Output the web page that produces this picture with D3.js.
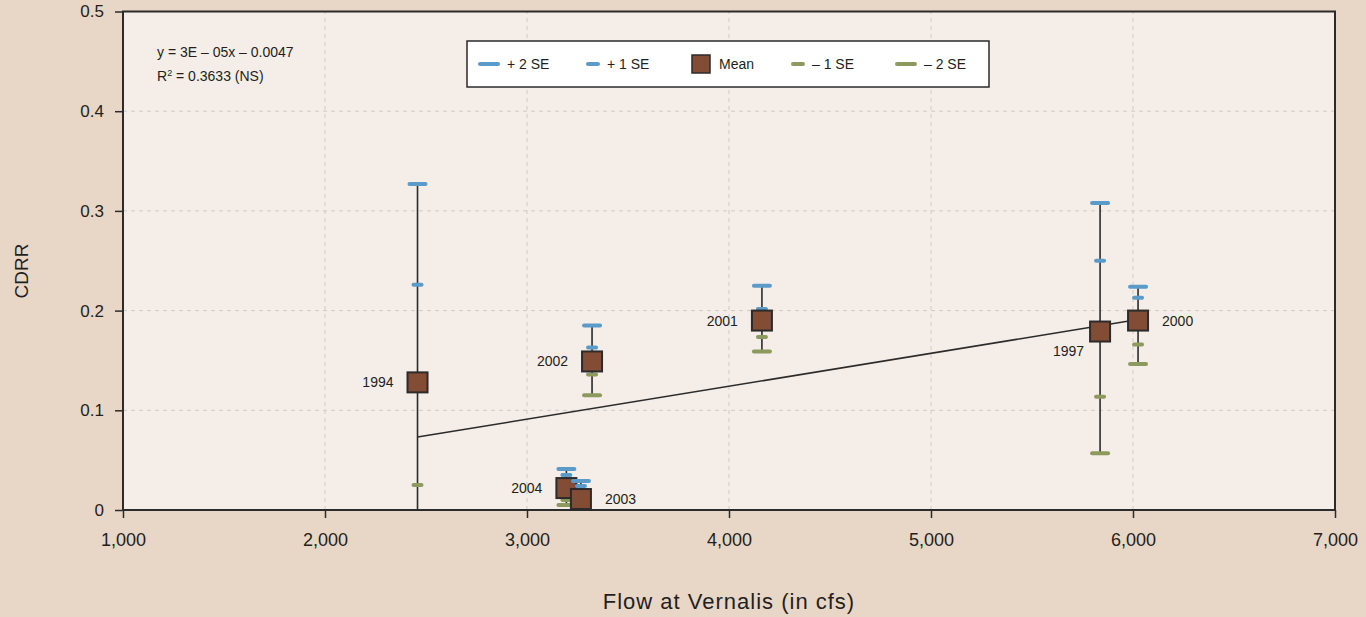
<!DOCTYPE html>
<html>
<head>
<meta charset="utf-8">
<script src="https://cdn.jsdelivr.net/npm/d3@7"></script>
<style>
  body { margin: 0; background: #e8d6c7; }
  svg text { font-family: "Liberation Sans", Arial, Helvetica, sans-serif; fill: #231f20; }
</style>
</head>
<body>
<div id="chart"></div>
<script>
// chart values
const years  = ['1994', '2002', '2004', '2003', '2001', '1997', '2000'];
const flow   = [2458, 3322, 3195, 3267, 4163, 5837, 6025];
const mean   = [0.128, 0.149, 0.022, 0.011, 0.190, 0.179, 0.190];
const plus2  = [0.327, 0.185, 0.041, 0.029, 0.225, 0.308, 0.224];
const plus1  = [0.226, 0.163, 0.035, 0.024, 0.2015, 0.250, 0.213];
const minus1 = [0.025, 0.136, 0.010, 0.000, 0.1735, 0.1135, 0.166];
const minus2 = [-0.073, 0.115, 0.005, -0.015, 0.159, 0.057, 0.1465];
const labelSide = ['left', 'left', 'left', 'right', 'left', 'below', 'right'];

const trendX = [2458, 6025];
const trendY = [0.0732, 0.191];

const xTicks = [1000, 2000, 3000, 4000, 5000, 6000, 7000];
const yTicks = [0, 0.1, 0.2, 0.3, 0.4, 0.5];

const legendLabels = ['+ 2 SE', '+ 1 SE', 'Mean', '\u2013 1 SE', '\u2013 2 SE'];
const equationLine = 'y = 3E \u2013 05x \u2013 0.0047';
const r2Value = '0.3633 (NS)';

const blue = '#5a9bc9';
const olive = '#8c9a5e';
const brown = '#824c35';
const dark = '#2b2b2b';

const width = 1366;
const height = 617;
const margin = {top: 11.5, right: 31, bottom: 107, left: 123};

const points = years.map((y, i) => ({
  year: y, flow: flow[i], mean: mean[i],
  p2: plus2[i], p1: plus1[i], m1: minus1[i], m2: minus2[i], side: labelSide[i]
}));

const svg = d3.select('#chart').append('svg')
  .attr('width', width)
  .attr('height', height);

const x = d3.scaleLinear().domain([1000, 7000]).range([margin.left, width - margin.right]);
const y = d3.scaleLinear().domain([0, 0.5]).range([height - margin.bottom, margin.top]);

// plot background
svg.append('rect')
  .attr('x', x(1000)).attr('y', y(0.5))
  .attr('width', x(7000) - x(1000)).attr('height', y(0) - y(0.5))
  .attr('fill', '#f5ede7');

svg.append('clipPath').attr('id', 'plotclip')
  .append('rect')
  .attr('x', x(1000)).attr('y', y(0.5) - 2)
  .attr('width', x(7000) - x(1000)).attr('height', y(0) - y(0.5) + 2);

// grid
svg.append('g').selectAll('line')
  .data(xTicks.slice(1, -1))
  .join('line')
  .attr('x1', d => x(d)).attr('x2', d => x(d))
  .attr('y1', y(0)).attr('y2', y(0.5))
  .attr('stroke', '#cfcac7').attr('stroke-dasharray', '4,4');

svg.append('g').selectAll('line')
  .data(yTicks.slice(1, -1))
  .join('line')
  .attr('x1', x(1000)).attr('x2', x(7000))
  .attr('y1', d => y(d)).attr('y2', d => y(d))
  .attr('stroke', '#cfcac7').attr('stroke-dasharray', '4,4');

// axes
const xAxis = svg.append('g')
  .attr('transform', `translate(0,${y(0)})`)
  .call(d3.axisBottom(x).tickValues(xTicks).tickFormat(d3.format(',')).tickSize(8).tickPadding(15));

const yAxis = svg.append('g')
  .attr('transform', `translate(${x(1000)},0)`)
  .call(d3.axisLeft(y).tickValues(yTicks).tickFormat(d => d === 0 ? '0' : d3.format('.1f')(d)).tickSize(8).tickPadding(11));

[xAxis, yAxis].forEach(a => {
  a.select('.domain').remove();
  a.selectAll('.tick line').attr('stroke', dark).attr('stroke-width', 1.5);
  a.selectAll('.tick text').attr('fill', '#231f20');
});
xAxis.selectAll('.tick text').style('font-size', '18px');
yAxis.selectAll('.tick text').style('font-size', '17px');

// frame
svg.append('rect')
  .attr('x', x(1000)).attr('y', y(0.5))
  .attr('width', x(7000) - x(1000)).attr('height', y(0) - y(0.5))
  .attr('fill', 'none').attr('stroke', dark).attr('stroke-width', 2);

// axis titles
svg.append('text')
  .attr('x', (x(1000) + x(7000)) / 2).attr('y', 609)
  .attr('text-anchor', 'middle')
  .style('font-size', '22px')
  .style('letter-spacing', '1px')
  .text('Flow at Vernalis (in cfs)');

svg.append('text')
  .attr('transform', 'translate(28,271) rotate(-90)')
  .attr('text-anchor', 'middle')
  .style('font-size', '19px')
  .text('CDRR');

// trend line
svg.append('line')
  .attr('x1', x(trendX[0])).attr('y1', y(trendY[0]))
  .attr('x2', x(trendX[1])).attr('y2', y(trendY[1]))
  .attr('stroke', dark).attr('stroke-width', 1.6);

// points with SE bars
const marks = svg.append('g');
const boxSize = 20;

points.forEach(p => {
  const g = marks.append('g');
  const gc = g.append('g').attr('clip-path', 'url(#plotclip)');
  const cx = x(p.flow);

  gc.append('line')
    .attr('x1', cx).attr('x2', cx)
    .attr('y1', y(p.m2)).attr('y2', y(p.p2))
    .attr('stroke', dark).attr('stroke-width', 1.6);

  const caps = [
    {v: p.p2, w: 20, c: blue},
    {v: p.p1, w: 12, c: blue},
    {v: p.m1, w: 12, c: olive},
    {v: p.m2, w: 20, c: olive}
  ];
  gc.selectAll('line.cap')
    .data(caps)
    .join('line')
    .attr('class', 'cap')
    .attr('x1', d => cx - d.w / 2 + 2).attr('x2', d => cx + d.w / 2 - 2)
    .attr('y1', d => y(d.v)).attr('y2', d => y(d.v))
    .attr('stroke', d => d.c).attr('stroke-width', 4).attr('stroke-linecap', 'round');

  g.append('rect')
    .attr('x', cx - boxSize / 2).attr('y', y(p.mean) - boxSize / 2)
    .attr('width', boxSize).attr('height', boxSize)
    .attr('fill', brown).attr('stroke', dark).attr('stroke-width', 2);

  const lab = g.append('text').style('font-size', '14px').text(p.year);
  if (p.side === 'left') {
    lab.attr('x', cx - 24).attr('y', y(p.mean) + 5).attr('text-anchor', 'end');
  } else if (p.side === 'right') {
    lab.attr('x', cx + 24).attr('y', y(p.mean) + 5).attr('text-anchor', 'start');
  } else {
    lab.attr('x', cx - 16).attr('y', y(p.mean) + 24).attr('text-anchor', 'end');
  }
});

// equation
const eq = svg.append('g').attr('transform', 'translate(157,0)');
eq.append('text').attr('y', 57).style('font-size', '14px').text(equationLine);
const r2 = eq.append('text').attr('y', 81).style('font-size', '14px');
r2.append('tspan').text('R');
r2.append('tspan').attr('dy', -5).style('font-size', '9px').text('2');
r2.append('tspan').attr('dy', 5).text(' = ' + r2Value);

// legend
const legend = svg.append('g');
legend.append('rect')
  .attr('x', 467).attr('y', 41).attr('width', 522).attr('height', 46)
  .attr('fill', '#ffffff').attr('stroke', dark).attr('stroke-width', 1.5);

const legendItems = [
  {x: 480, w: 18, c: blue, type: 'cap'},
  {x: 588, w: 10, c: blue, type: 'cap'},
  {x: 692, w: 18, c: brown, type: 'box'},
  {x: 793, w: 10, c: olive, type: 'cap'},
  {x: 897, w: 18, c: olive, type: 'cap'}
];
legendItems.forEach((d, i) => {
  if (d.type === 'cap') {
    legend.append('line')
      .attr('x1', d.x).attr('x2', d.x + d.w)
      .attr('y1', 64).attr('y2', 64)
      .attr('stroke', d.c).attr('stroke-width', 4).attr('stroke-linecap', 'round');
  } else {
    legend.append('rect')
      .attr('x', d.x).attr('y', 55).attr('width', d.w).attr('height', d.w)
      .attr('fill', d.c).attr('stroke', dark).attr('stroke-width', 1.5);
  }
  legend.append('text')
    .attr('x', d.x + d.w + 9).attr('y', 69)
    .style('font-size', '14px')
    .text(legendLabels[i]);
});
</script>
</body>
</html>
